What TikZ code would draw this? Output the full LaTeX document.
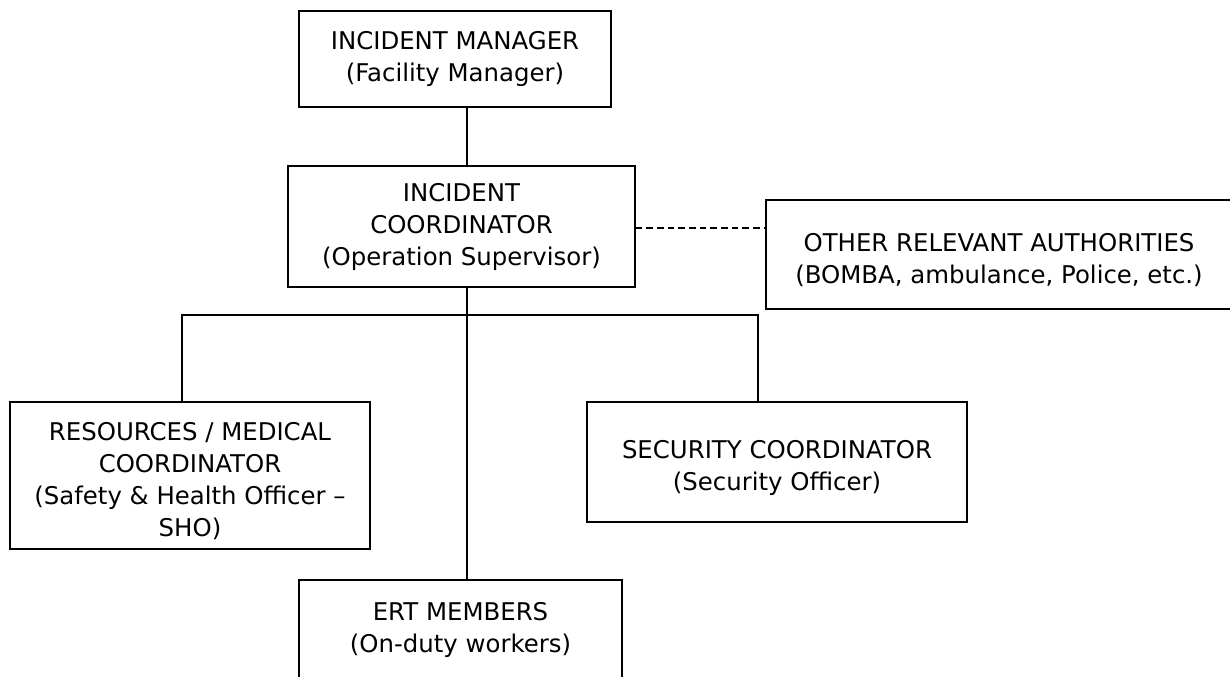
\documentclass[tikz,border=0pt]{standalone}
\usepackage{fontspec}
\setmainfont{DejaVu Sans}
\usetikzlibrary{calc}
\usetikzlibrary{positioning}
\newcommand{\pushdown}{\rule{0pt}{22pt}}

\begin{document}
\begin{tikzpicture}[x=0.75pt,y=-0.75pt]
\tikzset{box/.style={draw, line width=0.9pt, align=center, inner sep=0pt, font=\fontsize{18.3}{24}\selectfont}}
\tikzset{link/.style={line width=0.9pt}}
\useasboundingbox (0,0) rectangle (1230,677);

\pgfmathsetmacro{\trunk}{467}
\pgfmathsetmacro{\bus}{315}
\pgfmathsetmacro{\leftdrop}{182}
\pgfmathsetmacro{\rightdrop}{758}
\pgfmathsetmacro{\dashrow}{228}

\node[box, minimum width=234pt, minimum height=72pt] (IM) at (455, 59) {INCIDENT MANAGER\\(Facility Manager)};
\node[box, minimum width=260.25pt, minimum height=90.75pt] (IC) at (461.5, 226.5) {INCIDENT\\COORDINATOR\\(Operation Supervisor)};
\node[box, minimum width=349.5pt, minimum height=81.75pt] (ORA) at (999, 254.5) {\pushdown OTHER RELEVANT AUTHORITIES\\(BOMBA, ambulance, Police, etc.)};
\node[box, minimum width=270pt, minimum height=110.25pt] (RMC) at (190, 475.5) {\pushdown RESOURCES / MEDICAL\\COORDINATOR\\(Safety \& Health Officer –\\SHO)};
\node[box, minimum width=285pt, minimum height=90pt] (SC) at (777, 462) {\pushdown SECURITY COORDINATOR\\(Security Officer)};
\node[box, minimum width=242.25pt, minimum height=74.25pt] (ERT) at (460.5, 629.5) {ERT MEMBERS\\(On-duty workers)};

% trunk and bus
\coordinate (T) at (\trunk, 0);
\coordinate (BL) at (\leftdrop, \bus);
\coordinate (BR) at (\rightdrop, \bus);
\coordinate (D) at (0, \dashrow);

\draw[link] (IM.south -| T) -- (IC.north -| T);
\draw[link] (IC.south -| T) -- (ERT.north -| T);
\draw[link] (RMC.north -| BL) -- (BL) -- (BR) -- (SC.north -| BR);
\draw[link, dash pattern=on 5pt off 3pt] (IC.east |- D) -- (ORA.west |- D);
\end{tikzpicture}
\end{document}
